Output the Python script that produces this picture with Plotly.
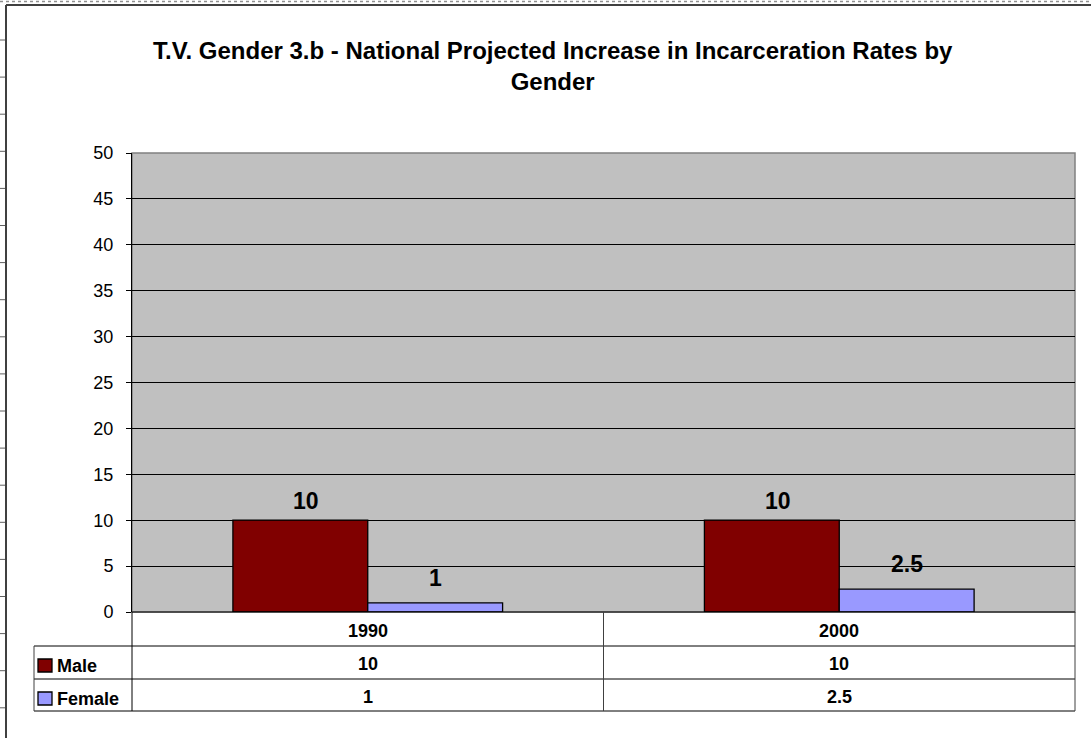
import plotly.graph_objects as go

# ---- data ----
categories = ["1990", "2000"]
series_names = ["Male", "Female"]
male_values = [10, 10]
female_values = [1, 2.5]
male_labels = ["10", "10"]
female_labels = ["1", "2.5"]
y_ticks = [0, 5, 10, 15, 20, 25, 30, 35, 40, 45, 50]
title_lines = ["T.V. Gender 3.b - National Projected Increase in Incarceration Rates by", "Gender"]

W, H = 1091, 738
L, R, T, B = 132, 1075, 153, 612
PW, PH = R - L, B - T

def px(x):
    return (x - L) / PW

def py(y):
    return (B - y) / PH

FONT = "Arial, Liberation Sans, sans-serif"
colors = ["#800000", "#9999FF"]
values = [male_values, female_values]
labels = [male_labels, female_labels]
BARGAP = 0.428

fig = go.Figure()
for name, vals, col in zip(series_names, values, colors):
    fig.add_trace(go.Bar(x=categories, y=vals, name=name,
                         marker=dict(color=col, line=dict(color="black", width=1.3)),
                         showlegend=False, hoverinfo="skip"))

annotations = []
shapes = []

# title
annotations.append(dict(text="<b>" + "<br>".join(title_lines) + "</b>", x=px(553), y=py(66),
                        xref="paper", yref="paper", xanchor="center", yanchor="middle", showarrow=False,
                        font=dict(family=FONT, size=24, color="black")))

# data labels (above each bar, centred on the bar)
half = (1 - BARGAP) / 4
offsets = [-half, half]
yshifts = [19, 25]
xshifts = [6, 0]
for vals, labs, off, ys, xs in zip(values, labels, offsets, yshifts, xshifts):
    for i, (v, lab) in enumerate(zip(vals, labs)):
        annotations.append(dict(text="<b>" + lab + "</b>", x=i + off, y=v, xref="x", yref="y",
                                xanchor="center", yanchor="middle", yshift=ys, xshift=xs, showarrow=False,
                                font=dict(family=FONT, size=23, color="black")))

# data table
row_lines = [612, 646, 679, 711]
shapes.append(dict(type="line", xref="paper", yref="paper", x0=px(132), x1=px(1075), y0=py(612), y1=py(612),
                   line=dict(color="black", width=1)))
for yl in row_lines[1:]:
    shapes.append(dict(type="line", xref="paper", yref="paper", x0=px(34), x1=px(1075), y0=py(yl), y1=py(yl),
                       line=dict(color="black", width=1)))
shapes.append(dict(type="line", xref="paper", yref="paper", x0=px(34), x1=px(34), y0=py(646), y1=py(711),
                   line=dict(color="#404040", width=1)))
for xl, lc in [(132, "black"), (1075, "#404040")]:
    shapes.append(dict(type="line", xref="paper", yref="paper", x0=px(xl), x1=px(xl), y0=py(612), y1=py(711),
                       line=dict(color=lc, width=1)))
shapes.append(dict(type="line", xref="x", yref="paper", x0=0.5, x1=0.5, y0=py(612), y1=py(711),
                   line=dict(color="#404040", width=1)))

header_center = 631
value_centers = [664, 697]
name_centers = [666, 699]
for i, c in enumerate(categories):
    annotations.append(dict(text="<b>" + c + "</b>", x=i, y=py(header_center), xref="x", yref="paper",
                            xanchor="center", yanchor="middle", showarrow=False,
                            font=dict(family=FONT, size=18, color="black")))
for r, (name, labs, col) in enumerate(zip(series_names, labels, colors)):
    yc = value_centers[r]
    for i, lab in enumerate(labs):
        annotations.append(dict(text="<b>" + lab + "</b>", x=i, y=py(yc), xref="x", yref="paper",
                                xanchor="center", yanchor="middle", showarrow=False,
                                font=dict(family=FONT, size=18, color="black")))
    nc = name_centers[r]
    shapes.append(dict(type="rect", xref="paper", yref="paper", x0=px(38), x1=px(52),
                       y0=py(nc - 7), y1=py(nc + 6),
                       fillcolor=col, line=dict(color="black", width=1.3)))
    annotations.append(dict(text="<b>" + name + "</b>", x=px(55), y=py(nc), xref="paper", yref="paper",
                            xanchor="left", yanchor="middle", showarrow=False,
                            font=dict(family=FONT, size=18, color="black")))

# plot area border
shapes.append(dict(type="rect", xref="paper", yref="paper", x0=0, x1=1, y0=0, y1=1,
                   line=dict(color="#808080", width=1.5), layer="below"))

# outer chart frame and sheet edge
shapes.append(dict(type="line", xref="paper", yref="paper", x0=px(6), x1=px(6), y0=py(5), y1=py(745),
                   line=dict(color="#404040", width=2)))
shapes.append(dict(type="line", xref="paper", yref="paper", x0=px(6), x1=px(1100), y0=py(5), y1=py(5),
                   line=dict(color="#404040", width=2)))
shapes.append(dict(type="line", xref="paper", yref="paper", x0=px(0), x1=px(1100), y0=py(1.5), y1=py(1.5),
                   line=dict(color="#909090", width=1.5, dash="dot")))
k = 0
while 40 + 37.1 * k < 738:
    yy = 40 + 37.1 * k
    shapes.append(dict(type="line", xref="paper", yref="paper", x0=px(0), x1=px(5), y0=py(yy), y1=py(yy),
                       line=dict(color="#606060", width=1)))
    k += 1

fig.update_layout(
    width=W, height=H,
    margin=dict(l=L, r=W - R, t=T, b=H - B, pad=0),
    paper_bgcolor="white", plot_bgcolor="#C0C0C0",
    barmode="group", bargap=BARGAP, bargroupgap=0,
    font=dict(family=FONT, color="black"),
    xaxis=dict(range=[-0.5, 1.5], showticklabels=False, ticks="", showgrid=False, zeroline=False,
               showline=False, type="category"),
    yaxis=dict(range=[0, 50], tickvals=y_ticks, ticktext=[str(t) for t in y_ticks], ticks="outside",
               ticklen=5, tickcolor="black", showgrid=True, gridcolor="black", gridwidth=1, zeroline=False,
               showline=True, linecolor="black", linewidth=1,
               tickfont=dict(family=FONT, size=18, color="black"), ticklabelstandoff=9),
    annotations=annotations, shapes=shapes,
)

fig.write_html("out.html", config={"displayModeBar": False},
               post_script="document.body.style.margin='0';document.body.style.overflow='hidden';")
